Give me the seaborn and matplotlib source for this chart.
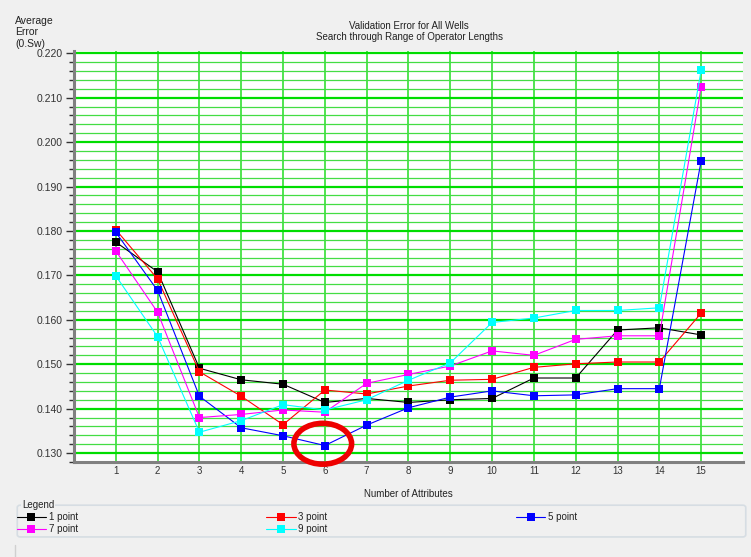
import numpy as np
import pandas as pd
import seaborn as sns
import matplotlib.pyplot as plt
from matplotlib.patches import Ellipse, FancyBboxPatch
from matplotlib.ticker import MultipleLocator

# Number of attributes (x axis)
attributes = list(range(1, 16))

# Average validation error per operator length
err_1pt = [0.1775, 0.1708, 0.1491, 0.1465, 0.1455, 0.1414, 0.1423, 0.1414,
           0.1420, 0.1423, 0.1469, 0.1469, 0.1577, 0.1582, 0.1566]
err_3pt = [0.1803, 0.1692, 0.1483, 0.1428, 0.1364, 0.1442, 0.1433, 0.1451,
           0.1464, 0.1466, 0.1493, 0.1501, 0.1505, 0.1505, 0.1615]
err_5pt = [0.1797, 0.1666, 0.1428, 0.1357, 0.1339, 0.1317, 0.1363, 0.1402,
           0.1426, 0.1440, 0.1429, 0.1431, 0.1445, 0.1445, 0.1958]
err_7pt = [0.1755, 0.1617, 0.1380, 0.1387, 0.1397, 0.1392, 0.1457, 0.1477,
           0.1496, 0.1530, 0.1520, 0.1556, 0.1564, 0.1564, 0.2125]
err_9pt = [0.1699, 0.1562, 0.1347, 0.1373, 0.1409, 0.1397, 0.1420, 0.1464,
           0.1503, 0.1594, 0.1604, 0.1621, 0.1621, 0.1627, 0.2162]

series_names = ["1 point", "3 point", "5 point", "7 point", "9 point"]
series_vals = [err_1pt, err_3pt, err_5pt, err_7pt, err_9pt]
colors = ["#000000", "#ff0000", "#0000ff", "#ff00ff", "#00ffff"]

# Best result (highlighted)
best_attr = 6
best_err = err_5pt[best_attr - 1]

df = pd.DataFrame(
    {
        "attributes": attributes * len(series_names),
        "error": np.concatenate(series_vals),
        "series": np.repeat(series_names, len(attributes)),
    }
)

sns.set_style("white")
plt.rcParams["font.family"] = ["Liberation Sans", "DejaVu Sans"]

fig = plt.figure(figsize=(7.51, 5.57), dpi=100, facecolor="#f0f0f0")
ax = fig.add_axes([0.0985, 0.1706, 0.8908, 0.7378])
ax.set_facecolor("white")

sns.lineplot(
    data=df,
    x="attributes",
    y="error",
    hue="series",
    style="series",
    palette=dict(zip(series_names, colors)),
    markers={n: "s" for n in series_names},
    dashes=False,
    markersize=5.3,
    markeredgewidth=0,
    linewidth=0.8,
    legend=True,
    ax=ax,
    zorder=3,
)

# Axes limits and ticks
ax.set_xlim(0, 16)
ax.set_ylim(0.128, 0.2205)
ax.set_xticks(attributes)
ax.yaxis.set_major_locator(MultipleLocator(0.01))
ax.yaxis.set_minor_locator(MultipleLocator(0.002))
ax.set_yticklabels([f"{v:.3f}" for v in ax.get_yticks()])
ax.tick_params(axis="y", which="major", length=6, width=1, color="#333333",
               labelsize=7.5, labelcolor="#333333", direction="out", left=True, pad=2)
ax.tick_params(axis="y", which="minor", length=3.5, width=1, color="#333333",
               direction="out", left=True)
ax.tick_params(axis="x", length=0, labelsize=7, labelcolor="#333333", pad=3)
ax.set_xlabel("")
ax.set_ylabel("")

# Grid
ax.grid(axis="y", which="major", color="#00dd00", linewidth=1.6, zorder=0)
ax.grid(axis="y", which="minor", color="#44dd44", linewidth=0.9, zorder=0)
ax.grid(axis="x", which="major", color="#22dd22", linewidth=1.1, zorder=0)
ax.set_axisbelow(True)

for side in ["top", "right"]:
    ax.spines[side].set_visible(False)
for side in ["left", "bottom"]:
    ax.spines[side].set_color("#808080")
    ax.spines[side].set_linewidth(2.2)

# Highlight circle
circle = Ellipse((best_attr - 0.05, best_err + 0.0004), width=1.38, height=0.0092,
                 fill=False, edgecolor="#ee0000", linewidth=4.0, zorder=5,
                 clip_on=False)
ax.add_patch(circle)

# Titles and labels
fig.text(0.545, 0.943, "Validation Error for All Wells\nSearch through Range of Operator Lengths",
         ha="center", va="center", fontsize=7, color="#222222", linespacing=1.15)
fig.text(0.02, 0.972, "Average\nError\n(0.Sw)", ha="left", va="top",
         fontsize=7.5, color="#222222", linespacing=1.2)
fig.text(0.544, 0.114, "Number of Attributes", ha="center", va="center",
         fontsize=7, color="#222222")

# Legend group box
handles, labels = ax.get_legend_handles_labels()
ax.get_legend().remove()
order = [0, 3, 1, 4, 2]
box = FancyBboxPatch((0.023, 0.036), 0.97, 0.057, boxstyle="round,pad=0,rounding_size=0.004",
                     transform=fig.transFigure, facecolor="none", edgecolor="#d6dde3",
                     linewidth=1.2)
fig.patches.append(box)
fig.text(0.029, 0.093, "Legend", ha="left", va="center", fontsize=7, color="#222222",
         bbox=dict(facecolor="#f0f0f0", edgecolor="none", pad=0.5))
leg = fig.legend(
    [handles[i] for i in order],
    [labels[i] for i in order],
    ncol=3,
    loc="upper left",
    bbox_to_anchor=(0.022, 0.080),
    frameon=False,
    fontsize=7,
    handlelength=3.0,
    handletextpad=0.3,
    columnspacing=19.4,
    labelspacing=0.2,
    borderpad=0,
    borderaxespad=0,
    markerscale=1.1,
)
for t in leg.get_texts():
    t.set_color("#222222")

fig.add_artist(plt.Line2D([0.02, 0.02], [0.0, 0.022], transform=fig.transFigure,
                          color="#d0d0d0", linewidth=1))

fig.savefig("out.png", dpi=100, facecolor=fig.get_facecolor())
